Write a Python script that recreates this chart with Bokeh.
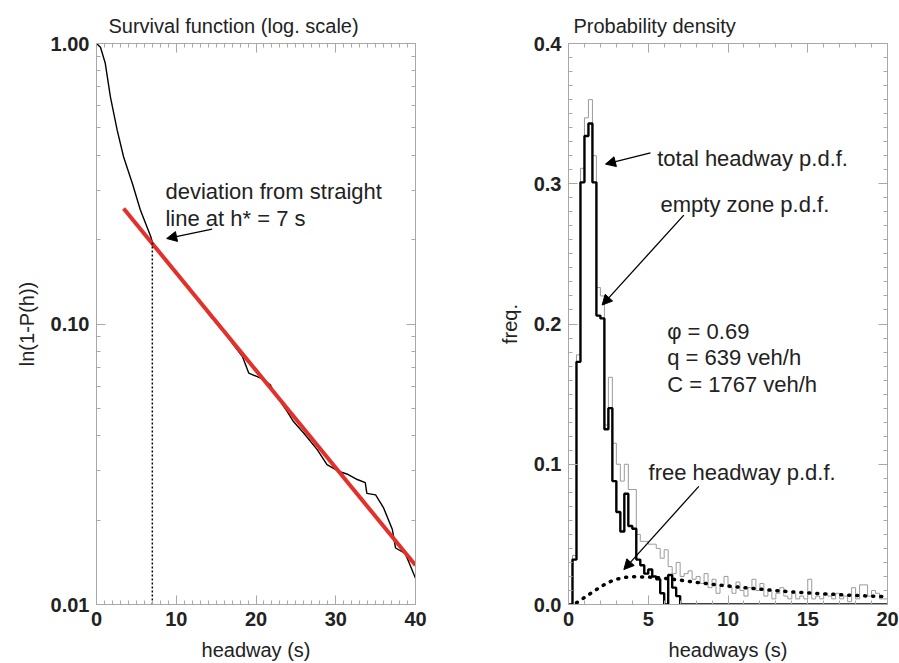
import numpy as np
from bokeh.plotting import figure
from bokeh.layouts import row
from bokeh.models import (LinearAxis, LogAxis, FixedTicker, PrintfTickFormatter,
                          Label, Arrow, NormalHead, Range1d)
from bokeh.embed import file_html
from bokeh.resources import INLINE

FONT = "Liberation Sans"

# ---------------- data: survival function ----------------
surv_h = [0, 0.5, 1.1, 1.75, 2.6, 3.4, 4.5, 5.5, 6.8, 7.0, 8, 9, 10, 11, 12, 13, 14, 15,
          16, 17.2, 18.3, 19.1, 20.6, 21.8, 22.2, 23.9, 24.7, 26, 27.7, 28.9, 30.4, 31.4,
          32.7, 33.7, 33.9, 35, 36, 37.1, 37.5, 38.7, 39.2, 40]
surv_p = [1.0, 0.97, 0.85, 0.644, 0.49, 0.394, 0.317, 0.255, 0.205, 0.196, 0.178, 0.165,
          0.151, 0.141, 0.129, 0.121, 0.109, 0.101, 0.094, 0.0841, 0.0766, 0.0668, 0.0641,
          0.0607, 0.0574, 0.0488, 0.0449, 0.0408, 0.0356, 0.0315, 0.0298, 0.0292, 0.0279,
          0.0272, 0.0249, 0.0246, 0.0221, 0.0185, 0.0159, 0.0152, 0.0141, 0.0124]
fit_h = [3.4, 40]
fit_p = [0.258, 0.0138]
h_star = 7.0
h_star_p = 0.196

# ---------------- data: probability density ----------------
bin_width = 0.25
empty_pdf = [0.0, 0.032, 0.173, 0.301, 0.334, 0.343, 0.301, 0.206, 0.204, 0.125,
             0.140, 0.088, 0.066, 0.052, 0.079, 0.056, 0.054, 0.032, 0.028, 0.022,
             0.025, 0.020, 0.018, 0.008, 0.0, 0.021, 0.012, 0.006] + [0.0] * 52
total_pdf = [0.0, 0.035, 0.178, 0.311, 0.347, 0.360, 0.320, 0.226, 0.220, 0.128,
             0.162, 0.115, 0.100, 0.088, 0.100, 0.082, 0.082, 0.050, 0.045, 0.045,
             0.043, 0.043, 0.040, 0.033, 0.039, 0.027, 0.022, 0.030, 0.020, 0.022,
             0.024, 0.018, 0.020, 0.015, 0.022, 0.012, 0.018, 0.008, 0.014, 0.020,
             0.012, 0.008, 0.016, 0.010, 0.006, 0.012, 0.018, 0.010, 0.015, 0.006,
             0.010, 0.004, 0.008, 0.012, 0.006, 0.004, 0.008, 0.004, 0.006, 0.004,
             0.018, 0.004, 0.006, 0.004, 0.008, 0.006, 0.004, 0.008, 0.004, 0.006,
             0.002, 0.012, 0.004, 0.014, 0.014, 0.006, 0.010, 0.008, 0.004, 0.004]
free_h = [0.5, 1.0, 1.5, 2.0, 2.5, 3.0, 3.5, 4.0, 5, 6, 7, 8, 9, 10, 11, 12, 13, 14,
          15, 16, 17, 18, 19, 20]
free_pdf = [0.0012, 0.005, 0.0088, 0.0125, 0.0158, 0.018, 0.0193, 0.0198, 0.0196,
            0.0187, 0.0174, 0.0158, 0.0144, 0.0132, 0.012, 0.011, 0.0099, 0.009,
            0.0083, 0.0076, 0.007, 0.0064, 0.006, 0.0056]

# ---------------- ticks ----------------
left_x_ticks = [0, 10, 20, 30, 40]
left_y_ticks = [0.01, 0.1, 1.0]
right_x_ticks = [0, 5, 10, 15, 20]
right_y_ticks = [0.0, 0.1, 0.2, 0.3, 0.4]

left_x_minor = [v for v in range(0, 41) if v % 10]
left_y_minor = [k * 10.0 ** e for e in (-2, -1) for k in range(2, 10)]
right_x_minor = [v for v in range(0, 21) if v % 5]
right_y_minor = [round(0.01 * k, 2) for k in range(0, 41) if k % 10]

AX = "#a8a8a8"


def style_axis(ax, labels=True):
    ax.axis_line_color = AX
    ax.major_tick_line_color = AX
    ax.minor_tick_line_color = AX
    ax.major_tick_in = 9
    ax.major_tick_out = 0
    ax.minor_tick_in = 4
    ax.minor_tick_out = 0
    ax.axis_line_width = 1
    if labels:
        ax.major_label_text_font = FONT
        ax.major_label_text_font_size = "20px"
        ax.major_label_text_font_style = "bold"
        ax.major_label_text_color = "#222222"
        ax.major_label_standoff = 7
        ax.axis_label_text_font = FONT
        ax.axis_label_text_font_size = "20px"
        ax.axis_label_text_font_style = "normal"
        ax.axis_label_text_color = "#222222"
        ax.axis_label_standoff = 10
    else:
        ax.major_label_text_font_size = "1px"
        ax.major_label_text_color = None
        ax.major_label_standoff = 0


def style_title(p, text, offset):
    p.title.text = text
    p.title.text_font = FONT
    p.title.text_font_size = "20px"
    p.title.text_font_style = "normal"
    p.title.text_color = "#222222"
    p.title.align = "left"
    p.title.offset = offset
    p.title.standoff = 14


def add_label(p, x, y, text):
    p.add_layout(Label(x=x, y=y, text=text, text_font=FONT, text_font_size="22px",
                       text_color="#222222", text_baseline="alphabetic"))


def add_arrow(p, xs, ys, xe, ye):
    p.add_layout(Arrow(end=NormalHead(size=10, fill_color="black", line_color="black",
                                      line_width=1),
                       x_start=xs, y_start=ys, x_end=xe, y_end=ye,
                       line_color="black", line_width=1.3))


# ---------------- left panel ----------------
p1 = figure(width=455, height=663, y_axis_type="log", output_backend="svg",
            toolbar_location=None, x_range=Range1d(0, 40), y_range=Range1d(0.01, 1.0),
            min_border_left=96, min_border_right=40, min_border_top=43,
            min_border_bottom=58)
p1.outline_line_color = None
p1.grid.visible = False
style_title(p1, "Survival function (log. scale)", 12)

p1.xaxis.ticker = FixedTicker(ticks=left_x_ticks, minor_ticks=left_x_minor)
p1.yaxis.ticker = FixedTicker(ticks=left_y_ticks, minor_ticks=left_y_minor)
p1.yaxis.formatter = PrintfTickFormatter(format="%.2f")
p1.xaxis.axis_label = "headway (s)"
p1.yaxis.axis_label = "ln(1-P(h))"
style_axis(p1.xaxis[0])
style_axis(p1.yaxis[0])
top1 = LinearAxis(ticker=FixedTicker(ticks=left_x_ticks, minor_ticks=left_x_minor))
right1 = LogAxis(ticker=FixedTicker(ticks=left_y_ticks, minor_ticks=left_y_minor))
style_axis(top1, labels=False)
style_axis(right1, labels=False)
p1.add_layout(top1, "above")
p1.add_layout(right1, "right")

p1.line(surv_h, surv_p, line_color="black", line_width=1.4)
p1.line(fit_h, fit_p, line_color="#e3302b", line_width=4)
p1.line([h_star, h_star], [0.01, h_star_p], line_color="black", line_width=1.5,
        line_dash="2 2")

add_label(p1, 8.65, 0.2958, "deviation from straight")
add_label(p1, 8.65, 0.238, "line at h* = 7 s")
add_arrow(p1, 14.5, 0.218, 8.8, 0.2017)

# ---------------- right panel ----------------
p2 = figure(width=444, height=663, output_backend="svg", toolbar_location=None,
            x_range=Range1d(0, 20), y_range=Range1d(0, 0.4),
            min_border_left=113, min_border_right=12, min_border_top=43,
            min_border_bottom=58)
p2.outline_line_color = None
p2.grid.visible = False
style_title(p2, "Probability density", 5)

p2.xaxis.ticker = FixedTicker(ticks=right_x_ticks, minor_ticks=right_x_minor)
p2.yaxis.ticker = FixedTicker(ticks=right_y_ticks, minor_ticks=right_y_minor)
p2.yaxis.formatter = PrintfTickFormatter(format="%.1f")
p2.xaxis.axis_label = "headways (s)"
p2.yaxis.axis_label = "freq."
style_axis(p2.xaxis[0])
style_axis(p2.yaxis[0])
top2 = LinearAxis(ticker=FixedTicker(ticks=right_x_ticks, minor_ticks=right_x_minor))
right2 = LinearAxis(ticker=FixedTicker(ticks=right_y_ticks, minor_ticks=right_y_minor))
style_axis(top2, labels=False)
style_axis(right2, labels=False)
p2.add_layout(top2, "above")
p2.add_layout(right2, "right")

edges = [i * bin_width for i in range(len(total_pdf) + 1)]
p2.step(edges, total_pdf + [total_pdf[-1]], mode="after", line_color="#9a9a9a",
        line_width=1)
p2.step(edges, empty_pdf + [empty_pdf[-1]], mode="after", line_color="black",
        line_width=2.4)
p2.line(free_h, free_pdf, line_color="black", line_width=3.5, line_dash="1 7",
        line_cap="round")

add_label(p2, 5.56, 0.318, "total headway p.d.f.")
add_arrow(p2, 5.14, 0.322, 2.32, 0.314)
add_label(p2, 5.77, 0.285, "empty zone p.d.f.")
add_arrow(p2, 7.23, 0.2776, 2.11, 0.2135)
add_label(p2, 6.19, 0.1943, "φ = 0.69")
add_label(p2, 6.19, 0.1758, "q = 639 veh/h")
add_label(p2, 6.19, 0.1566, "C = 1767 veh/h")
add_label(p2, 5.02, 0.094, "free headway p.d.f.")
add_arrow(p2, 8.17, 0.0842, 3.47, 0.0249)

layout = row(p1, p2)
open("out.html", "w").write(file_html(layout, INLINE))
